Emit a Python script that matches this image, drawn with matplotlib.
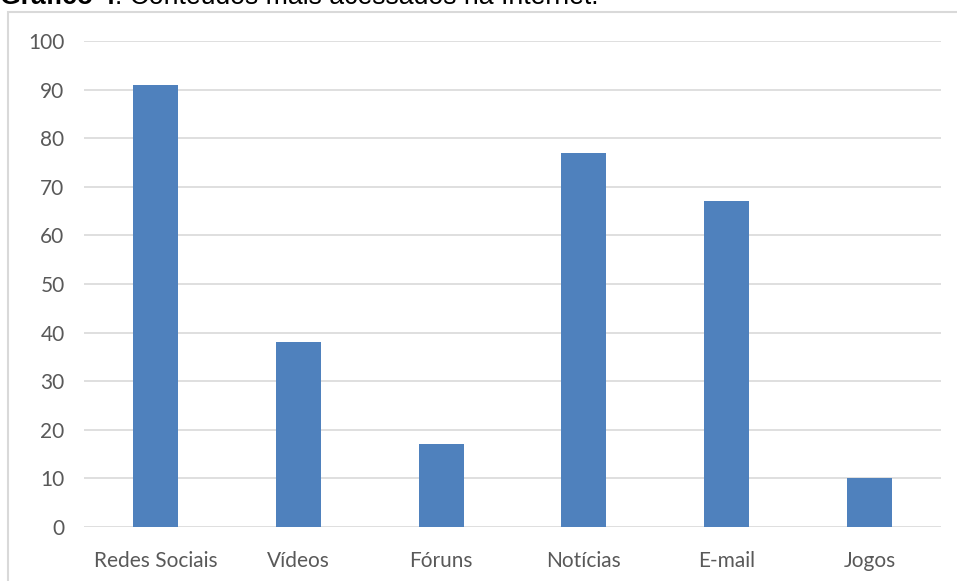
import matplotlib
matplotlib.use("Agg")
import matplotlib.pyplot as plt
from matplotlib.patches import Rectangle

categories = ["Redes Sociais", "Vídeos", "Fóruns", "Notícias", "E-mail", "Jogos"]
values = [91, 38, 17, 77, 67, 10]
yticks = [0, 10, 20, 30, 40, 50, 60, 70, 80, 90, 100]

W, H = 957, 581
fig = plt.figure(figsize=(W / 100, H / 100), dpi=100)

# chart frame (cut off at right and bottom)
fig.patches.append(Rectangle((8 / W, -0.1), 1.2, 1 - 12.5 / H + 0.1,
                             transform=fig.transFigure, fill=False,
                             edgecolor="#D9D9D9", linewidth=1.5))

# caption partly cut at the top
t1 = fig.text(0.0, 1 - 4.5 / H, "Gráfico 4", fontweight="bold", fontsize=19.2,
              family="Liberation Sans", va="baseline", ha="left")
fig.canvas.draw()
x_end = t1.get_window_extent().x1 / W
fig.text(x_end, 1 - 4.5 / H, ": Conteúdos mais acessados na Internet.", fontsize=19.2,
         family="Liberation Sans", va="baseline", ha="left")

ax = fig.add_axes([84 / W, 54 / H, (941 - 84) / W, (527 - 41) / H])
x = range(len(categories))
ax.bar(x, values, width=0.315, color="#4F81BD", zorder=3)
ax.set_xlim(-0.5, len(categories) - 0.5)
ax.set_ylim(0, 100)
ax.set_yticks(yticks)
ax.set_xticks(list(x))
ax.set_xticklabels(categories)
ax.grid(axis="y", color="#D9D9D9", linewidth=1.2, zorder=0)
for s in ax.spines.values():
    s.set_visible(False)
ax.tick_params(length=0, labelsize=15, labelcolor="#595959")
for lab in ax.get_xticklabels() + ax.get_yticklabels():
    lab.set_family("Lato")
ax.tick_params(axis="x", pad=17)
ax.tick_params(axis="y", pad=14)

fig.savefig("out.png", dpi=100)
